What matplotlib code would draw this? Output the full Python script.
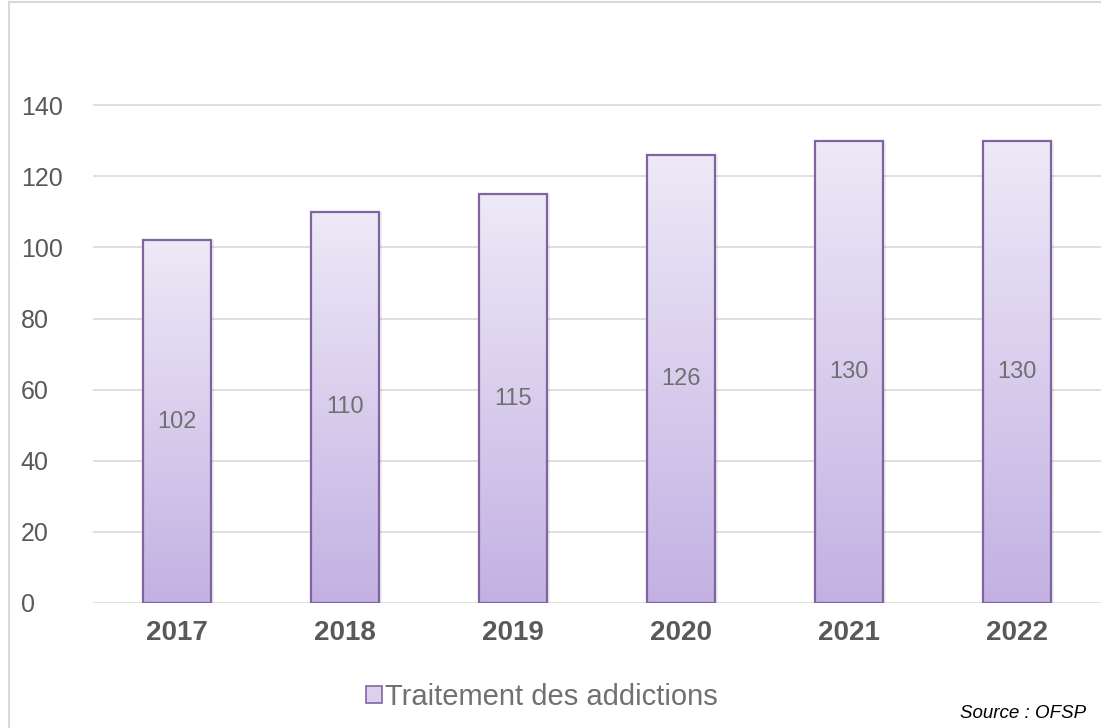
import matplotlib
matplotlib.use("Agg")
from matplotlib import pyplot as plt
from matplotlib.patches import Rectangle
from matplotlib.lines import Line2D
import numpy as np

plt.rcParams['font.family'] = ['Liberation Sans', 'DejaVu Sans']

years = ['2017', '2018', '2019', '2020', '2021', '2022']
values = [102, 110, 115, 126, 130, 130]
series_name = 'Traitement des addictions'
source = 'Source : OFSP'

grey = '#595959'
label_grey = '#707070'
edge = '#8064A2'
top_col = np.array([0xEE, 0xE9, 0xF7]) / 255
bot_col = np.array([0xC3, 0xB1, 0xE3]) / 255

fig = plt.figure(figsize=(11.01, 7.28), dpi=100)
ax = fig.add_axes([93 / 1101, 1 - 603 / 728, 1008 / 1101, 569 / 728])

x = np.arange(len(years))
width = 0.41

# vertical gradient used to fill each bar
grad = np.linspace(0, 1, 256)[:, None]
grad_img = top_col[None, None, :] * (1 - grad[:, :, None]) + bot_col[None, None, :] * grad[:, :, None]

bars = ax.bar(x, values, width=width, facecolor='none', edgecolor=edge,
              linewidth=1.6, zorder=3)
for b, v in zip(bars, values):
    x0 = b.get_x()
    im = ax.imshow(grad_img, extent=[x0, x0 + width, 0, v], aspect='auto',
                   origin='upper', zorder=2)
    im.set_clip_path(b)
    # faint shadow on the right side
    ax.add_patch(Rectangle((x0 + width, 0), 0.015, v, facecolor='#000000',
                           alpha=0.06, edgecolor='none', zorder=1))
    ax.text(b.get_x() + width / 2, v / 2, str(v), ha='center', va='center',
            fontsize=17, color=label_grey, zorder=4)

ax.set_xlim(-0.5, len(years) - 0.5)
ax.set_ylim(0, 160)
ax.set_yticks(np.arange(0, 141, 20))
ax.set_xticks(x)
ax.set_xticklabels(years, fontweight='bold', fontsize=20)
ax.yaxis.grid(True, color='#D9D9D9', linewidth=1.2, zorder=0)
ax.set_axisbelow(True)
for s in ax.spines.values():
    s.set_visible(False)
ax.tick_params(axis='both', length=0, colors=grey)
ax.tick_params(axis='y', labelsize=18, pad=52)
ax.tick_params(axis='x', pad=12)
for lbl in ax.get_yticklabels():
    lbl.set_horizontalalignment('left')

# legend
handle = Rectangle((0, 0), 1, 1, facecolor='#DCD0EF', edgecolor=edge, linewidth=1.2)
leg = fig.legend([handle], [series_name], loc='center', bbox_to_anchor=(542 / 1101, 1 - 697 / 728),
                 frameon=False, fontsize=21, handlelength=0.55, handleheight=0.55,
                 handletextpad=0.1)
for t in leg.get_texts():
    t.set_color(label_grey)

fig.text(1086 / 1101, 1 - 713 / 728, source, ha='right', va='center',
         fontsize=13.5, style='italic', color='black')

# chart frame
fig.add_artist(Line2D([9 / 1101, 9 / 1101], [0, 1 - 2 / 728], color='#D9D9D9', linewidth=1.5))
fig.add_artist(Line2D([9 / 1101, 1], [1 - 2 / 728, 1 - 2 / 728], color='#D9D9D9', linewidth=1.5))

fig.savefig('out.png', dpi=100)
